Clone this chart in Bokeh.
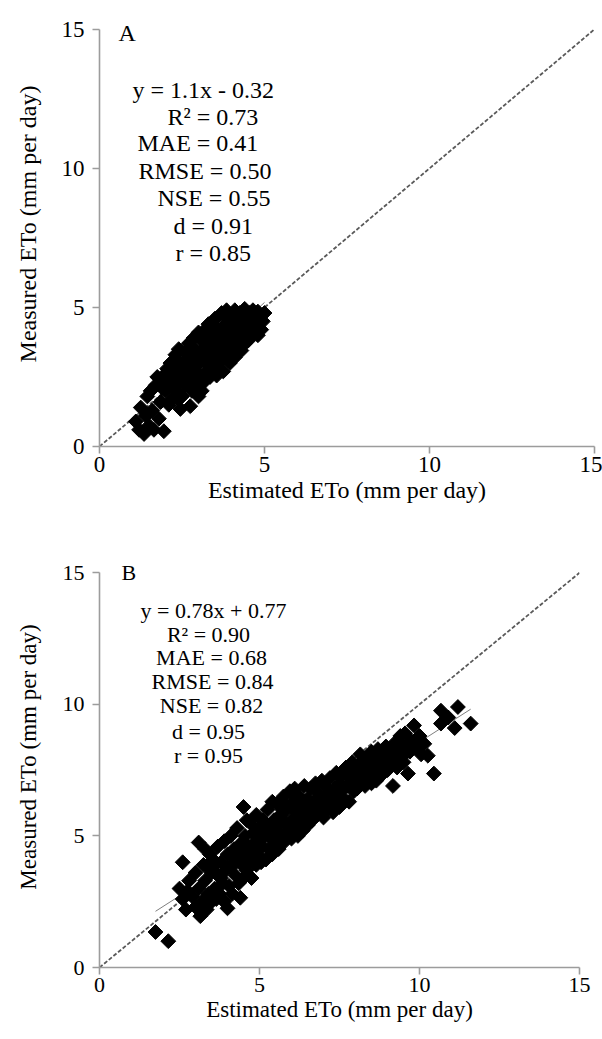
import numpy as np
from bokeh.plotting import figure
from bokeh.models import Range1d, Label, FixedTicker
from bokeh.layouts import column
from bokeh.embed import file_html
from bokeh.resources import INLINE

# ---------------- data ----------------
ticks = [0, 5, 10, 15]
x_title = "Estimated ETo (mm per day)"
y_title = "Measured ETo (mm per day)"

panel_tags = ["A", "B"]

a_stats = ["y = 1.1x - 0.32", "R\u00b2 = 0.73", "MAE = 0.41", "RMSE = 0.50",
           "NSE = 0.55", "d = 0.91", "r = 0.85"]
b_stats = ["y = 0.78x + 0.77", "R\u00b2 = 0.90", "MAE = 0.68", "RMSE = 0.84",
           "NSE = 0.82", "d = 0.95", "r = 0.95"]

a_slope, a_intercept = 1.1, -0.32
b_slope, b_intercept = 0.78, 0.77

# panel A: estimated (x) / measured (y)
a_est = [1.1, 1.2, 1.25, 1.35, 1.4, 1.5, 1.45, 1.6, 1.65, 1.7, 1.8, 1.55, 1.75,
         1.85, 1.9, 1.95, 2.0, 2.05, 2.1, 2.15, 2.2, 2.2, 1.9,
         2.3, 2.3, 2.35, 2.4, 2.45, 2.5, 2.5, 2.55, 2.6, 2.6, 2.4, 2.35, 2.45, 2.75,
         2.7, 2.7, 2.75, 2.8, 2.8, 2.85, 2.9, 2.9, 2.95, 3.0, 3.0, 3.0, 2.65, 2.75,
         3.05, 3.1, 3.1, 3.15, 3.2, 3.2, 3.25, 3.3, 3.3, 3.35, 3.4, 3.4, 3.1, 3.25, 3.35,
         3.45, 3.5, 3.5, 3.55, 3.6, 3.6, 3.65, 3.7, 3.7, 3.75, 3.8, 3.8, 3.45, 3.55, 3.65,
         3.85, 3.9, 3.9, 3.95, 4.0, 4.0, 4.05, 4.1, 4.1, 4.15, 4.2, 4.2, 3.95, 4.05, 4.15,
         4.25, 4.3, 4.3, 4.35, 4.4, 4.4, 4.45, 4.5, 4.5, 4.55, 4.6, 4.6, 4.35, 4.45,
         4.65, 4.7, 4.7, 4.75, 4.8, 4.85, 4.9, 4.95, 4.9, 5.0, 4.8,
         2.05, 2.25, 2.55, 2.85, 3.15, 3.45, 3.75]
a_meas = [0.9, 0.6, 1.4, 0.45, 1.1, 0.75, 1.8, 1.3, 0.6, 2.2, 1.0, 2.0, 2.5,
          1.6, 2.5, 0.55, 2.0, 2.8, 1.5, 3.0, 2.3, 1.7, 2.1,
          2.7, 3.3, 2.0, 3.5, 2.4, 3.0, 1.8, 2.6, 3.4, 2.2, 1.7, 3.1, 1.35, 1.45,
          3.7, 2.9, 2.4, 3.2, 2.0, 3.9, 2.7, 3.5, 2.2, 4.1, 3.0, 1.8, 3.1, 3.5,
          2.6, 3.3, 3.8, 2.3, 4.2, 3.0, 2.7, 3.6, 4.4, 2.5, 3.2, 3.9, 2.0, 3.4, 4.0,
          2.8, 4.6, 3.5, 2.55, 4.2, 3.0, 3.8, 4.8, 3.3, 2.7, 4.4, 3.6, 4.3, 3.9, 3.2,
          4.9, 3.1, 4.0, 4.6, 3.4, 4.3, 3.8, 4.9, 3.2, 4.5, 3.6, 4.1, 3.0, 4.7, 3.95,
          4.8, 3.45, 4.35, 3.9, 4.95, 3.7, 4.5, 4.1, 3.8, 4.8, 4.3, 3.95, 4.6, 4.2,
          4.9, 4.1, 4.6, 4.3, 4.85, 4.45, 4.7, 4.5, 4.2, 4.8, 4.0,
          2.4, 2.6, 2.9, 3.2, 3.5, 3.8, 4.1]

# panel B: estimated (x) / measured (y)
b_est = [1.75, 2.15, 2.6, 2.5, 2.6, 2.7, 2.8, 2.9, 3.0, 3.0, 2.75,
         3.1, 3.1, 3.15, 3.2, 3.25, 3.3, 3.35, 3.4, 3.45, 3.5, 3.5, 3.3, 3.4,
         3.55, 3.6, 3.65, 3.7, 3.7, 3.75, 3.8, 3.85, 3.9, 3.9, 3.95, 4.0, 4.0, 3.6, 3.8,
         4.05, 4.1, 4.1, 4.15, 4.2, 4.25, 4.3, 4.3, 4.35, 4.4, 4.4, 4.45, 4.5, 4.5, 4.5, 4.2,
         4.55, 4.6, 4.65, 4.7, 4.7, 4.75, 4.8, 4.85, 4.9, 4.9, 4.95, 5.0, 5.0, 4.6, 4.8,
         5.05, 5.1, 5.1, 5.15, 5.2, 5.25, 5.3, 5.3, 5.35, 5.4, 5.4, 5.45, 5.5, 5.5, 5.2,
         5.55, 5.6, 5.6, 5.65, 5.7, 5.75, 5.8, 5.8, 5.85, 5.9, 5.95, 6.0, 6.0, 5.7,
         6.05, 6.1, 6.1, 6.15, 6.2, 6.25, 6.3, 6.3, 6.35, 6.4, 6.45, 6.5, 6.5,
         6.55, 6.6, 6.65, 6.7, 6.75, 6.8, 6.85, 6.9, 6.95, 7.0, 7.0,
         7.05, 7.1, 7.15, 7.2, 7.25, 7.3, 7.35, 7.4, 7.45, 7.5, 7.5,
         7.55, 7.6, 7.65, 7.7, 7.75, 7.8, 7.85, 7.9, 7.95, 8.0, 8.0,
         8.05, 8.1, 8.15, 8.2, 8.25, 8.3, 8.35, 8.4, 8.45, 8.5, 8.5,
         8.55, 8.6, 8.65, 8.7, 8.75, 8.8, 8.85, 8.9, 8.95, 9.0, 9.0,
         9.05, 9.1, 9.17, 9.2, 9.25, 9.3, 9.35, 9.4, 9.45, 9.5, 9.5,
         9.55, 9.64, 9.7, 9.75, 9.83, 9.9, 10.0, 10.05, 10.15, 10.26, 10.45,
         10.67, 10.67, 11.1, 11.2, 11.6, 10.9]
b_meas = [1.35, 1.0, 4.0, 3.0, 2.6, 2.2, 3.3, 2.7, 2.3, 3.6, 2.9,
          4.75, 3.0, 1.95, 2.5, 3.9, 3.3, 2.2, 2.8, 4.3, 3.6, 2.5, 4.5, 3.8,
          4.1, 3.0, 2.6, 4.6, 3.5, 2.8, 4.0, 3.2, 4.8, 2.5, 3.7, 4.3, 2.25, 3.9, 3.4,
          3.1, 5.0, 3.8, 2.8, 4.5, 3.5, 4.1, 5.3, 3.2, 2.65, 4.7, 3.9, 6.1, 4.4, 3.4, 4.0,
          5.0, 3.7, 4.6, 5.5, 4.1, 3.4, 5.1, 4.4, 5.8, 3.9, 4.8, 5.3, 4.2, 5.6, 4.7,
          4.0, 5.6, 4.6, 5.0, 4.1, 6.0, 5.3, 4.5, 4.9, 6.3, 4.3, 5.6, 5.0, 4.7, 5.3,
          6.2, 5.4, 4.5, 5.8, 5.0, 6.5, 4.8, 5.5, 6.0, 5.2, 6.7, 5.6, 4.9, 6.3,
          6.3, 5.3, 6.8, 5.9, 5.0, 6.5, 5.6, 6.1, 5.2, 6.9, 5.8, 6.4, 5.4,
          6.0, 6.8, 5.6, 6.3, 7.0, 5.8, 6.6, 6.1, 7.1, 6.4, 5.7,
          6.9, 6.0, 6.6, 7.2, 6.3, 5.9, 6.8, 7.4, 6.5, 7.0, 6.1,
          6.7, 7.3, 6.4, 7.6, 6.9, 6.3, 7.2, 7.8, 6.7, 7.4, 7.0,
          6.8, 7.7, 8.1, 7.1, 7.5, 6.9, 7.9, 7.3, 7.6, 8.2, 7.0,
          7.4, 7.9, 7.1, 8.3, 7.6, 7.3, 8.0, 7.7, 8.4, 7.5, 7.9,
          8.2, 7.7, 6.9, 8.5, 8.0, 7.6, 8.3, 8.8, 8.0, 8.4, 7.8,
          8.9, 7.37, 8.2, 8.6, 9.2, 8.4, 8.8, 8.1, 8.5, 8.05, 7.37,
          9.76, 9.27, 9.1, 9.9, 9.27, 9.5]

# ---------------- styling ----------------
SERIF = "Liberation Serif"
AXIS_GREY = "#9c9c9c"
Y_TOP = 16  # y range extends a little above the last tick so labels are not clipped


def make_panel(est, meas, slope, intercept, stats, tag, *, frame_w, frame_h,
               top, bottom, right, tick_fs, stat_fs, label_fs, y_label_standoff,
               stat_xy, stat_align, tag_xy):
    p = figure(frame_width=frame_w, frame_height=frame_h,
               x_range=Range1d(ticks[0], ticks[-1]),
               y_range=Range1d(ticks[0], Y_TOP),
               output_backend="svg", toolbar_location=None,
               min_border_left=99, min_border_right=right,
               min_border_top=top, min_border_bottom=bottom)
    p.outline_line_color = None
    p.xgrid.visible = False
    p.ygrid.visible = False
    p.background_fill_color = "white"
    p.border_fill_color = "white"

    for ax in (p.xaxis[0], p.yaxis[0]):
        ax.ticker = FixedTicker(ticks=ticks)
        ax.bounds = (ticks[0], ticks[-1])
        ax.axis_line_color = AXIS_GREY
        ax.axis_line_width = 1.6
        ax.major_tick_line_color = AXIS_GREY
        ax.major_tick_line_width = 1.6
        ax.major_tick_in = 0
        ax.major_tick_out = 7
        ax.minor_tick_line_color = None
        ax.major_label_text_font = SERIF
        ax.major_label_text_font_size = f"{tick_fs}px"
        ax.major_label_text_color = "black"
        ax.axis_label_text_font = SERIF
        ax.axis_label_text_font_size = f"{label_fs}px"
        ax.axis_label_text_font_style = "normal"
        ax.axis_label_text_color = "black"
    p.xaxis.axis_label = x_title
    p.yaxis.axis_label = y_title
    p.xaxis.major_label_standoff = 3
    p.xaxis.axis_label_standoff = 2
    p.yaxis.major_label_standoff = 8
    p.yaxis.axis_label_standoff = y_label_standoff

    # 1:1 line
    p.line([ticks[0], ticks[-1]], [ticks[0], ticks[-1]], line_color="#5a5a5a",
           line_width=1.8, line_dash="4 2")
    # regression line
    xs = np.array([min(est), max(est)])
    p.line(xs, slope * xs + intercept, line_color="#7f7f7f", line_width=1)
    # points (diamonds)
    p.scatter(est, meas, marker="square", angle=np.pi / 4, size=10.5,
              fill_color="black", line_color="black")

    p.add_layout(Label(x=tag_xy[0], y=tag_xy[1], x_units="screen", y_units="screen",
                       text=tag, text_font=SERIF, text_font_size=f"{stat_fs}px",
                       text_baseline="middle", text_align="left", text_color="black"))
    for s, (sx, sy) in zip(stats, stat_xy):
        p.add_layout(Label(x=sx, y=sy, x_units="screen", y_units="screen",
                           text=s, text_font=SERIF, text_font_size=f"{stat_fs}px",
                           text_baseline="middle", text_align=stat_align,
                           text_color="black"))
    return p


# panel A: frame page box x 99..594, y 1..446 (tick 15 at y=29)
a_bottom_px = 446
a_stat_xy = [(132 - 99, a_bottom_px - 89), (167 - 99, a_bottom_px - 116),
             (137 - 99, a_bottom_px - 142), (138 - 99, a_bottom_px - 170),
             (157 - 99, a_bottom_px - 197), (173 - 99, a_bottom_px - 225),
             (175 - 99, a_bottom_px - 252)]
pa = make_panel(a_est, a_meas, a_slope, a_intercept, a_stats, panel_tags[0],
                frame_w=495, frame_h=445, top=1, bottom=94, right=8,
                tick_fs=23, stat_fs=24, label_fs=24, y_label_standoff=18,
                stat_xy=a_stat_xy, stat_align="left",
                tag_xy=(118 - 99, a_bottom_px - 32))

# panel B: frame page box x 99..579, y 546..967 (tick 15 at y=572)
b_bottom_px = 967
b_centers_x = [213, 208, 211, 212, 211, 208, 208]
b_centers_y = [610, 634, 657, 681, 705, 731, 755]
b_stat_xy = [(cx - 99, b_bottom_px - cy) for cx, cy in zip(b_centers_x, b_centers_y)]
pb = make_panel(b_est, b_meas, b_slope, b_intercept, b_stats, panel_tags[1],
                frame_w=480, frame_h=421, top=6, bottom=72, right=23,
                tick_fs=22, stat_fs=22, label_fs=23, y_label_standoff=19,
                stat_xy=b_stat_xy, stat_align="center",
                tag_xy=(121 - 99, b_bottom_px - 572))

layout = column(pa, pb, spacing=0)
open("out.html", "w").write(file_html(layout, INLINE))
